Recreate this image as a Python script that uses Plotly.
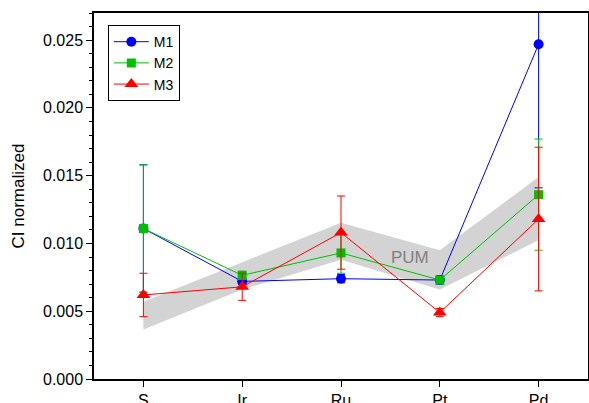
import plotly.graph_objects as go

categories = ["S", "Ir", "Ru", "Pt", "Pd"]

m1 = [0.0111, 0.0072, 0.0074, 0.0073, 0.0247]
m1_err = [0.0047, 0.0002, 0.0003, 0.0003, 0.0106]

m2 = [0.0111, 0.00765, 0.0093, 0.0073, 0.0136]
m2_err = [0.0047, 0.0003, 0.0015, 0.0002, 0.0041]

m3 = [0.0062, 0.0068, 0.0108, 0.0049, 0.0118]
m3_err = [0.0016, 0.0010, 0.0027, 0.0003, 0.0053]

pum_upper = [0.0057, 0.0086, 0.01153, 0.0095, 0.0149]
pum_lower = [0.00366, 0.0066, 0.0088, 0.0066, 0.01025]

x_idx = list(range(len(categories)))

fig = go.Figure()

# PUM band
fig.add_trace(go.Scatter(
    x=x_idx + x_idx[::-1],
    y=pum_upper + pum_lower[::-1],
    fill="toself", fillcolor="#d3d3d3", line=dict(width=0),
    mode="lines", showlegend=False, hoverinfo="skip",
))

def add_series(name, y, err, color, symbol, size):
    fig.add_trace(go.Scatter(
        x=x_idx, y=y, name=name, mode="lines+markers",
        line=dict(color=color, width=1),
        marker=dict(color=color, symbol=symbol, size=size),
        error_y=dict(type="data", array=err, color=color, thickness=1, width=4),
    ))

add_series("M1", m1, m1_err, "#0000ff", "circle", 10)
add_series("M2", m2, m2_err, "#00c000", "square", 9)
add_series("M3", m3, m3_err, "#ff0000", "triangle-up", 12)

fig.add_annotation(x=2.7, y=0.0090, text="PUM", showarrow=False,
                   font=dict(size=17, color="#808080"))

fig.update_layout(
    width=589, height=403,
    margin=dict(l=94, r=1, t=13, b=24, autoexpand=False),
    plot_bgcolor="white", paper_bgcolor="white",
    font=dict(family="Arial, Liberation Sans, sans-serif", size=16, color="black"),
    legend=dict(x=0.028, y=0.967, xanchor="left", yanchor="top",
                bordercolor="black", borderwidth=1, bgcolor="white",
                font=dict(size=14), itemwidth=35, tracegroupgap=0),
    showlegend=True,
)

fig.update_xaxes(
    range=[-0.5, 4.5], tickmode="array", tickvals=x_idx, ticktext=categories,
    showline=True, linecolor="black", linewidth=1.5, mirror=True,
    ticks="outside", ticklen=6, tickcolor="black", showgrid=False, zeroline=False,
    tickfont=dict(size=16), automargin=False,
)
fig.update_yaxes(
    range=[0, 0.027], dtick=0.005, tick0=0, tickformat=".3f",
    showline=True, linecolor="black", linewidth=1.5, mirror=True,
    ticks="outside", ticklen=6, tickcolor="black", showgrid=False, zeroline=False,
    minor=dict(dtick=0.001, ticks="outside", ticklen=3, tickcolor="black", showgrid=False),
    title=dict(text="CI normalized", font=dict(size=17), standoff=14),
    tickfont=dict(size=16), automargin=False,
)

fig.write_html(
    "out.html",
    config={"displayModeBar": False},
    post_script="document.body.style.margin='0';document.body.style.overflow='hidden';",
)
